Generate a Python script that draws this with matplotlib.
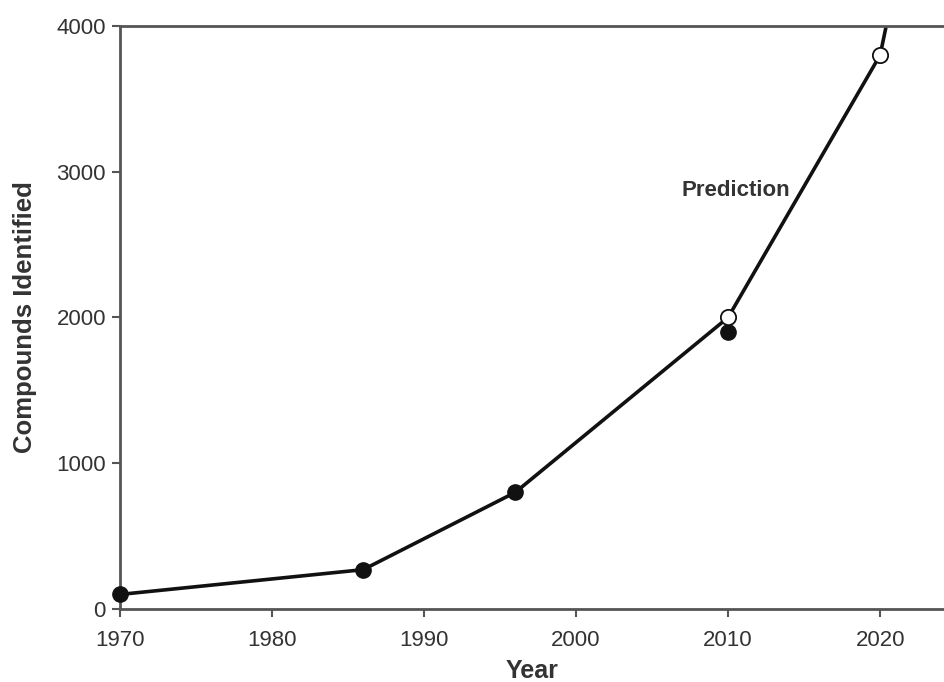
import matplotlib
matplotlib.use("Agg")
import matplotlib.pyplot as plt

plt.rcParams["font.family"] = ["Liberation Sans", "DejaVu Sans"]

# observed counts
years_obs = [1970, 1986, 1996, 2010]
counts_obs = [100, 270, 800, 1900]

# predicted counts
years_pred = [2010, 2020]
counts_pred = [2000, 3800]

# trend line (runs off the top of the plot after 2020)
years_line = [1970, 1986, 1996, 2010, 2020, 2021]
counts_line = [100, 270, 800, 2000, 3800, 4300]

xticks = [1970, 1980, 1990, 2000, 2010, 2020]
yticks = [0, 1000, 2000, 3000, 4000]

spine_col = "#555555"
text_col = "#333333"

fig = plt.figure(figsize=(9.44, 6.82), dpi=100)
ax = fig.add_axes([0.127, 0.107, 0.873, 0.855])

ax.plot(years_line, counts_line, color="#111111", lw=2.6, zorder=2)
ax.plot(years_obs, counts_obs, "o", color="#111111", ms=11, zorder=3,
        clip_on=False)
ax.plot(years_pred, counts_pred, "o", mfc="white", mec="#111111", mew=1.3,
        ms=11, zorder=4)

ax.set_xlim(1970, 2024.2)
ax.set_ylim(0, 4000)
ax.set_xticks(xticks)
ax.set_yticks(yticks)

for side in ["left", "bottom", "top"]:
    ax.spines[side].set_color(spine_col)
    ax.spines[side].set_linewidth(2)
ax.spines["right"].set_visible(False)

ax.tick_params(direction="out", length=6, width=1.5, color=spine_col,
               labelsize=16, labelcolor=text_col)
ax.tick_params(axis="x", pad=9)
ax.tick_params(axis="y", pad=4)

ax.set_xlabel("Year", fontsize=18, fontweight="bold", color=text_col,
              labelpad=6)
ax.set_ylabel("Compounds Identified", fontsize=18.5, fontweight="bold",
              color=text_col, labelpad=14)

ax.text(2010.5, 2870, "Prediction", fontsize=16, fontweight="bold",
        color=text_col, ha="center", va="center")

fig.savefig("out.png", dpi=100)
